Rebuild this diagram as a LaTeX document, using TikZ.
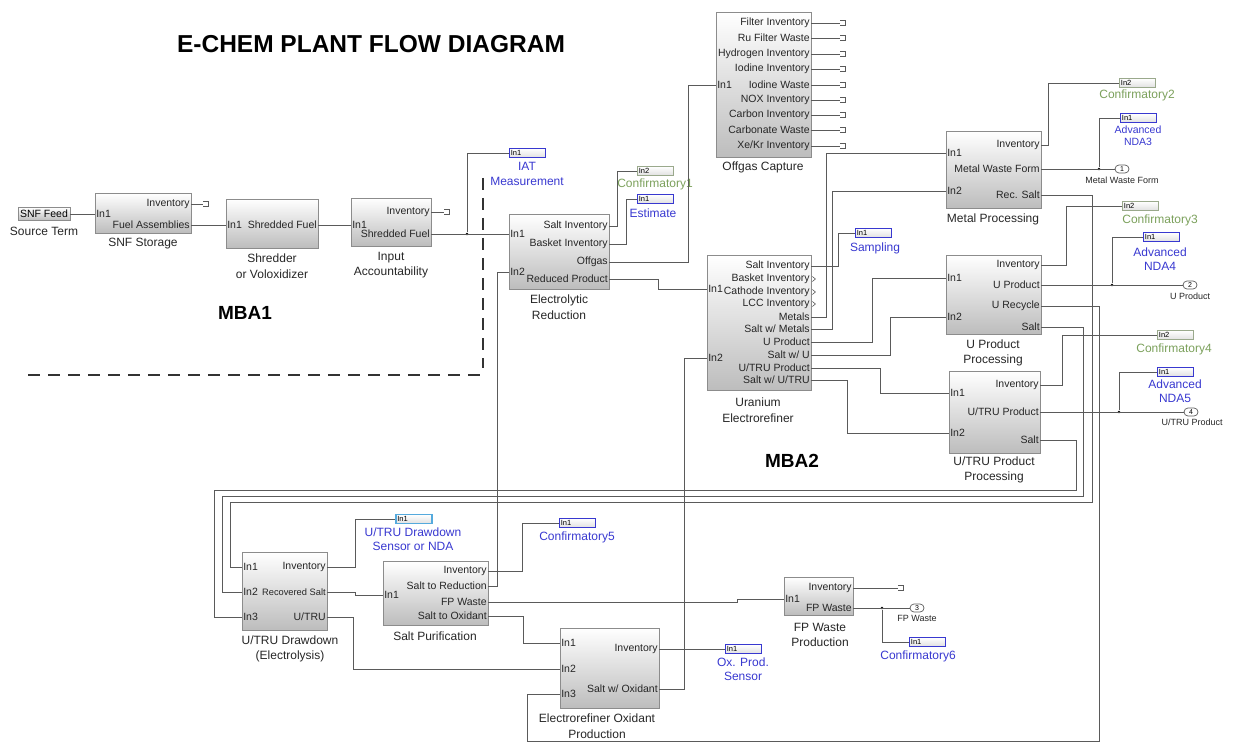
\documentclass[tikz,border=0pt]{standalone}
\usepackage{fontspec}
\setmainfont{Liberation Sans}
\usetikzlibrary{calc}
\definecolor{wirec}{HTML}{5A5A5A}
\definecolor{boxc}{HTML}{8C8C8C}
\definecolor{blu}{HTML}{3838D0}
\definecolor{grn}{HTML}{7BA05B}
\definecolor{selc}{HTML}{55AADD}
\tikzset{
 wire/.style={draw=wirec, line width=0.8pt},
 blockbox/.style={draw=boxc, line width=0.8pt, top color=white, bottom color=black!26, inner sep=0pt},
 plab/.style={font=\fontsize{10.5}{11}\selectfont, inner sep=0pt, text=black!85},
 btitle/.style={font=\fontsize{12}{15.5}\selectfont, align=center, inner sep=0pt, text=black!85},
 inbox/.style={line width=0.8pt, top color=white, bottom color=black!12, minimum width=36pt, minimum height=9pt, inner sep=0pt, anchor=west, font=\fontsize{7.5}{8}\selectfont, text width=33pt, align=left},
 bl/.style={font=\fontsize{12}{14.5}\selectfont, align=center, text=blu, inner sep=0pt},
 gl/.style={font=\fontsize{12}{14.5}\selectfont, align=center, text=grn, inner sep=0pt},
 oport/.style={draw=wirec, line width=0.7pt, rounded corners=4pt, minimum width=14pt, minimum height=8pt, inner sep=0pt, font=\fontsize{7}{7}\selectfont},
 olab/.style={font=\fontsize{9}{10}\selectfont, inner sep=0pt, text=black!85},
 jdot/.style={circle, fill=black, inner sep=0pt, minimum size=2.8pt},
 dsh/.style={line width=2pt, dash pattern=on 12pt off 8pt, draw=black!80},
}
\newcommand\blk[5]{\node[blockbox, minimum width={(#4-#2)*1pt}, minimum height={(#5-#3)*1pt}] (#1) at ({(#2+#4)/2},{(#3+#5)/2}) {};}
\newcommand\op[4]{\coordinate (#1-#2) at (#1.east |- 0,#3); \node[plab, anchor=east] (#1-#2-t) at ([xshift=-1.5pt]#1-#2) {#4};}
\newcommand\ip[4]{\coordinate (#1-#2) at (#1.west |- 0,#3); \node[plab, anchor=west] (#1-#2-t) at ([xshift=1.5pt]#1-#2) {#4};}
\newcommand\term[3]{\node[inner sep=0pt, minimum width=5pt, minimum height=5pt] (#1) at (#2,#3) {}; \draw[wire, line width=0.6pt] (#1.north west) -- (#1.north east) -- (#1.south east) -- (#1.south west);}
\newcommand\chev[1]{\draw[wire, line width=0.6pt, shift={(#1)}] (1,-2.5) -- (4,0) -- (1,2.5);}
\begin{document}
\begin{tikzpicture}[x=1pt,y=-1pt]
\useasboundingbox (0,0) rectangle (1238,743);
% titles
\node[font=\fontsize{24.5}{26}\selectfont\bfseries, inner sep=0pt] (ttl) at (371,44) {E-CHEM PLANT FLOW DIAGRAM};
\node[font=\fontsize{19}{20}\selectfont\bfseries, inner sep=0pt] (mba1) at (245,313) {MBA1};
\node[font=\fontsize{19}{20}\selectfont\bfseries, inner sep=0pt] (mba2) at (792,461) {MBA2};
% MBA boundary
\coordinate (dv1) at (483,178); \coordinate (dv2) at (483,368);
\coordinate (dh1) at (28,375); \coordinate (dh2) at (483,375);
\draw[dsh] (dv1) -- (dv2);
\draw[dsh] (dh1) -- (dh2);

% Source term
\node[blockbox, minimum width=52pt, minimum height=13pt, font=\fontsize{10.5}{11}\selectfont] (snf) at (44,214) {SNF Feed};
\node[btitle] (snf-l) at (44,231) {Source Term};

% SNF Storage
\blk{sto}{95}{193}{191}{233}
\ip{sto}{in1}{214}{In1}
\op{sto}{inv}{204}{Inventory}
\op{sto}{fa}{225}{Fuel Assemblies}
\node[btitle] (sto-l) at (143,244) {SNF Storage};
\term{tsto}{206}{204}

% Shredder
\blk{shr}{226}{199}{318}{248}
\ip{shr}{in1}{225}{In1}
\op{shr}{sf}{225}{Shredded Fuel}
\node[btitle] (shr-l) at (272,266) {Shredder\\or Voloxidizer};

% Input accountability
\blk{ia}{351}{198}{431}{246}
\ip{ia}{in1}{225}{In1}
\op{ia}{inv}{212}{Inventory}
\op{ia}{sf}{234}{Shredded Fuel}
\node[btitle] (ia-l) at (391,265) {Input\\Accountability};
\term{tia}{447}{212}

% Electrolytic reduction
\blk{er}{509}{214}{609}{289}
\ip{er}{in1}{234}{In1}
\ip{er}{in2}{272}{In2}
\op{er}{salt}{226}{Salt Inventory}
\op{er}{bask}{244}{Basket Inventory}
\op{er}{off}{262}{Offgas}
\op{er}{red}{279}{Reduced Product}
\node[btitle] (er-l) at (559,307) {Electrolytic\\Reduction};

% Offgas capture
\blk{og}{716}{12}{811}{157}
\ip{og}{in1}{85}{In1}
\op{og}{a}{23}{Filter Inventory}
\op{og}{b}{38}{Ru Filter Waste}
\op{og}{c}{54}{Hydrogen Inventory}
\op{og}{d}{69}{Iodine Inventory}
\op{og}{e}{85}{Iodine Waste}
\op{og}{f}{100}{NOX Inventory}
\op{og}{g}{115}{Carbon Inventory}
\op{og}{h}{130}{Carbonate Waste}
\op{og}{i}{146}{Xe/Kr Inventory}
\node[btitle] (og-l) at (763,167) {Offgas Capture};
\foreach \k/\yy in {a/23,b/38,c/54,d/69,e/85,f/100,g/115,h/130,i/146}{
  \term{tog\k}{843}{\yy}
  \draw[wire] (og-\k) -- (tog\k.west);
}

% Uranium electrorefiner
\blk{uer}{707}{255}{811}{390}
\ip{uer}{in1}{289}{In1}
\ip{uer}{in2}{358}{In2}
\op{uer}{salt}{266}{Salt Inventory}
\op{uer}{bi}{279}{Basket Inventory}
\op{uer}{ci}{292}{Cathode Inventory}
\op{uer}{lcc}{304}{LCC Inventory}
\op{uer}{met}{317}{Metals}
\op{uer}{swm}{329}{Salt w/ Metals}
\op{uer}{up}{342}{U Product}
\op{uer}{swu}{355}{Salt w/ U}
\op{uer}{utp}{368}{U/TRU Product}
\op{uer}{swut}{380}{Salt w/ U/TRU}
\chev{uer-bi} \chev{uer-ci} \chev{uer-lcc}
\node[btitle] (uer-l) at (758,410) {Uranium\\Electrorefiner};

% Metal processing
\blk{mp}{946}{131}{1041}{208}
\ip{mp}{in1}{153}{In1}
\ip{mp}{in2}{191}{In2}
\op{mp}{inv}{145}{Inventory}
\op{mp}{mwf}{169}{Metal Waste Form}
\op{mp}{rs}{195}{Rec. Salt}
\node[btitle] (mp-l) at (993,219) {Metal Processing};

% U product processing
\blk{upp}{946}{255}{1041}{334}
\ip{upp}{in1}{278}{In1}
\ip{upp}{in2}{317}{In2}
\op{upp}{inv}{265}{Inventory}
\op{upp}{up}{285}{U Product}
\op{upp}{ur}{306}{U Recycle}
\op{upp}{salt}{327}{Salt}
\node[btitle] (upp-l) at (993,353) {U Product\\Processing};

% U/TRU product processing
\blk{utp}{949}{371}{1040}{453}
\ip{utp}{in1}{393}{In1}
\ip{utp}{in2}{433}{In2}
\op{utp}{inv}{385}{Inventory}
\op{utp}{utp}{412}{U/TRU Product}
\op{utp}{salt}{440}{Salt}
\node[btitle] (utp-l) at (994,470) {U/TRU Product\\Processing};

% U/TRU drawdown
\blk{ud}{242}{552}{327}{630}
\ip{ud}{in1}{567}{In1}
\ip{ud}{in2}{592}{In2}
\ip{ud}{in3}{617}{In3}
\op{ud}{inv}{567}{Inventory}
\op{ud}{rs}{592}{\fontsize{9.3}{10}\selectfont Recovered Salt}
\op{ud}{ut}{617}{U/TRU}
\node[btitle] (ud-l) at (290,649) {U/TRU Drawdown\\(Electrolysis)};

% Salt purification
\blk{sp}{383}{561}{488}{625}
\ip{sp}{in1}{595}{In1}
\op{sp}{inv}{571}{Inventory}
\op{sp}{sr}{586}{Salt to Reduction}
\op{sp}{fp}{602}{FP Waste}
\op{sp}{so}{616}{Salt to Oxidant}
\node[btitle] (sp-l) at (435,636) {Salt Purification};

% Electrorefiner oxidant production
\blk{eo}{560}{628}{659}{708}
\ip{eo}{in1}{643}{In1}
\ip{eo}{in2}{669}{In2}
\ip{eo}{in3}{694}{In3}
\op{eo}{inv}{649}{Inventory}
\op{eo}{swo}{689}{Salt w/ Oxidant}
\node[btitle] (eo-l) at (597,726) {Electrorefiner Oxidant\\Production};

% FP waste production
\blk{fpw}{784}{577}{853}{615}
\ip{fpw}{in1}{599}{In1}
\op{fpw}{inv}{588}{Inventory}
\op{fpw}{fp}{608}{FP Waste}
\node[btitle] (fpw-l) at (820,635) {FP Waste\\Production};
\term{tfp}{901}{588}

% measurement inports
\node[inbox, draw=blu] (iat) at (509,153) {In1};
\node[bl] (iat-l) at (527,174) {IAT\\Measurement};
\node[inbox, draw=grn!70!black!60] (conf1) at (637,171) {In2};
\node[gl] (conf1-l) at (655,184) {Confirmatory1};
\node[inbox, draw=blu] (est) at (637,199) {In1};
\node[bl] (est-l) at (653,213) {Estimate};
\node[inbox, draw=grn!70!black!60] (conf2) at (1119,83) {In2};
\node[gl] (conf2-l) at (1137,95) {Confirmatory2};
\node[inbox, draw=blu] (nda3) at (1120,118) {In1};
\node[bl, font=\fontsize{10.5}{12}\selectfont] (nda3-l) at (1138,136) {Advanced\\NDA3};
\node[inbox, draw=blu] (samp) at (855,233) {In1};
\node[bl] (samp-l) at (875,248) {Sampling};
\node[inbox, draw=grn!70!black!60] (conf3) at (1122,206) {In2};
\node[gl] (conf3-l) at (1160,220) {Confirmatory3};
\node[inbox, draw=blu] (nda4) at (1143,237) {In1};
\node[bl] (nda4-l) at (1160,259) {Advanced\\NDA4};
\node[inbox, draw=grn!70!black!60] (conf4) at (1157,335) {In2};
\node[gl] (conf4-l) at (1174,349) {Confirmatory4};
\node[inbox, draw=blu] (nda5) at (1157,372) {In1};
\node[bl] (nda5-l) at (1175,391) {Advanced\\NDA5};
\node[inbox, draw=selc, line width=1.8pt] (uds) at (395,519) {In1};
\node[bl] (uds-l) at (413,539) {U/TRU Drawdown\\Sensor or NDA};
\node[inbox, draw=blu] (conf5) at (559,523) {In1};
\node[bl] (conf5-l) at (577,537) {Confirmatory5};
\node[inbox, draw=blu] (oxs) at (725,649) {In1};
\node[bl] (oxs-l) at (743,669) {Ox. Prod.\\Sensor};
\node[inbox, draw=blu] (conf6) at (909,642) {In1};
\node[bl] (conf6-l) at (918,656) {Confirmatory6};

% outports
\node[oport] (o1) at (1122,169) {1};
\node[olab] (o1-l) at (1122,180) {Metal Waste Form};
\node[oport] (o2) at (1190,285) {2};
\node[olab] (o2-l) at (1190,296) {U Product};
\node[oport] (o3) at (917,608) {3};
\node[olab] (o3-l) at (917,618) {FP Waste};
\node[oport] (o4) at (1191,412) {4};
\node[olab] (o4-l) at (1192,422) {U/TRU Product};

% junctions
\node[jdot] (j1) at (467,234) {};
\node[jdot] (j2) at (1099,169) {};
\node[jdot] (j3) at (1112,285) {};
\node[jdot] (j4) at (1119,412) {};
\node[jdot] (j5) at (882,608) {};

% wires
\draw[wire] (snf.east) -- (sto-in1);
\draw[wire] (sto-inv) -- (tsto.west);
\draw[wire] (sto-fa) -- (shr-in1);
\draw[wire] (shr-sf) -- (ia-in1);
\draw[wire] (ia-inv) -- (tia.west);
\draw[wire] (ia-sf) -- (er-in1);
\draw[wire] (j1) |- (iat.west);
\draw[wire] (er-salt) -- ++(8,0) |- (conf1.west);
\draw[wire] (er-bask) -- ++(17,0) |- (est.west);
\draw[wire] (er-off) -- ++(79,0) |- (og-in1);
\draw[wire] (er-red) -- ++(49,0) |- (uer-in1);
\draw[wire] (sp-sr) -- ++(9,0) |- (er-in2);
\draw[wire] (uer-salt) -- ++(27,0) |- (samp.west);
\draw[wire] (uer-met) -- ++(15,0) |- (mp-in1);
\draw[wire] (uer-swm) -- ++(21,0) |- (mp-in2);
\draw[wire] (uer-up) -- ++(61,0) |- (upp-in1);
\draw[wire] (uer-swu) -- ++(79,0) |- (upp-in2);
\draw[wire] (uer-utp) -- ++(69,0) |- (utp-in1);
\draw[wire] (uer-swut) -- ++(36,0) |- (utp-in2);
\draw[wire] (mp-inv) -- ++(7,0) |- (conf2.west);
\draw[wire] (mp-mwf) -- (o1.west);
\draw[wire] (j2) |- (nda3.west);
\draw[wire] (mp-rs) -| (1092,502) -| (230,567) -- (ud-in1);
\draw[wire] (upp-inv) -- ++(25,0) |- (conf3.west);
\draw[wire] (upp-up) -- (o2.west);
\draw[wire] (j3) |- (nda4.west);
\draw[wire] (upp-ur) -| (1099,741) -| (527,694) -- (eo-in3);
\draw[wire] (upp-salt) -| (1083,496) -| (222,592) -- (ud-in2);
\draw[wire] (utp-inv) -- ++(22,0) |- (conf4.west);
\draw[wire] (utp-utp) -- (o4.west);
\draw[wire] (j4) |- (nda5.west);
\draw[wire] (utp-salt) -| (1076,490) -| (214,617) -- (ud-in3);
\draw[wire] (ud-inv) -- ++(28,0) |- (uds.west);
\draw[wire] (ud-rs) -- (355,592) -- (355,595) -- (sp-in1);
\draw[wire] (ud-ut) -| (353,669) -- (eo-in2);
\draw[wire] (sp-inv) -- ++(34,0) |- (conf5.west);
\draw[wire] (sp-fp) -- (737,602) -- (737,599) -- (fpw-in1);
\draw[wire] (sp-so) -- ++(35,0) |- (eo-in1);
\draw[wire] (eo-inv) -- (oxs.west);
\draw[wire] (eo-swo) -| (684,358) -- (uer-in2);
\draw[wire] (fpw-inv) -- (tfp.west);
\draw[wire] (fpw-fp) -- (o3.west);
\draw[wire] (j5) |- (conf6.west);
\end{tikzpicture}
\end{document}
